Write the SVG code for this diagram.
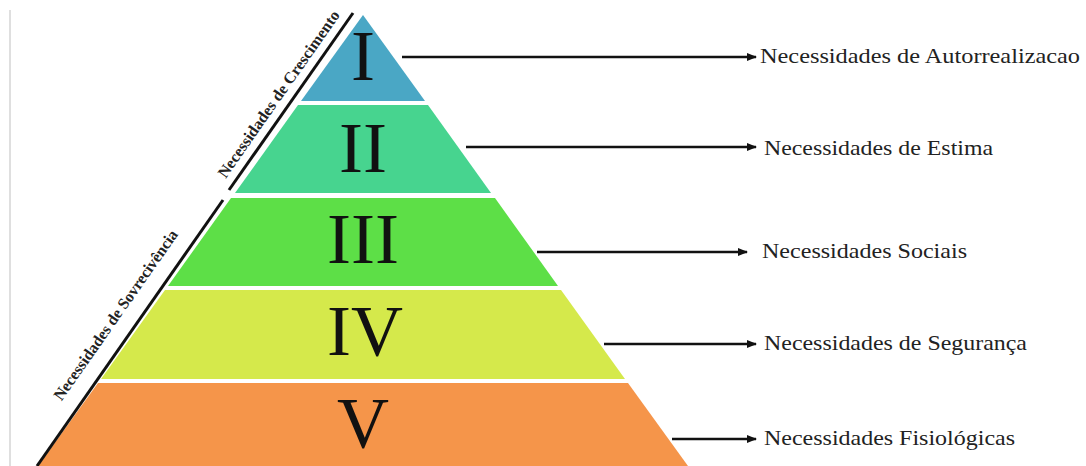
<svg xmlns="http://www.w3.org/2000/svg" width="1086" height="466" viewBox="0 0 1086 466">
<defs>
<style>
.lvl{stroke:none}
.num{font-family:"Liberation Serif","Times New Roman",serif;font-size:72px;fill:#111;text-anchor:middle}
.lbl{font-family:"Liberation Serif","Times New Roman",serif;font-size:22px;fill:#222}
.side{font-family:"Liberation Serif","Times New Roman",serif;font-size:16px;font-weight:bold;fill:#222;text-anchor:middle}
.conn{stroke:#111;stroke-width:2.5;fill:none;marker-end:url(#ah)}
.diag{stroke:#111;stroke-width:3;fill:none}
</style>
<marker id="ah" viewBox="0 0 10 10" refX="9" refY="5" markerWidth="4" markerHeight="4" orient="auto" markerUnits="strokeWidth">
<path d="M0,1 L10,5 L0,9 z" fill="#111"/>
</marker>
</defs>
<rect width="1086" height="466" fill="#ffffff"/>
<line x1="10" y1="10" x2="10" y2="466" stroke="#d4d4d4" stroke-width="1.5"/>
<g id="level-1">
<polygon class="lvl" points="363,15 425,101 301,101" fill="#4aa7c5"/>
<text class="num" x="363" y="80">I</text>
</g>
<g id="level-2">
<polygon class="lvl" points="298,105 428,105 491,193 235,193" fill="#47d48f"/>
<text class="num" x="363" y="172">II</text>
</g>
<g id="level-3">
<polygon class="lvl" points="231,198 495,198 558,286 168,286" fill="#5ddf47"/>
<text class="num" x="363" y="263">III</text>
</g>
<g id="level-4">
<polygon class="lvl" points="165,290 561,290 625,379 101,379" fill="#d5e94b"/>
<text class="num" x="365" y="355">IV</text>
</g>
<g id="level-5">
<polygon class="lvl" points="98,383 628,383 688,466 38,466" fill="#f5954a"/>
<text class="num" x="363" y="447">V</text>
</g>
<g id="side-crescimento">
<line class="diag" x1="353" y1="13" x2="229" y2="190"/>
<text class="side" transform="translate(283,97) rotate(-55)" textLength="200" lengthAdjust="spacingAndGlyphs">Necessidades de Crescimento</text>
</g>
<g id="side-sobrevivencia">
<line class="diag" x1="223" y1="200" x2="37" y2="466"/>
<text class="side" transform="translate(120,318) rotate(-55)" textLength="204" lengthAdjust="spacingAndGlyphs">Necessidades de Sovrecivência</text>
</g>
<g id="connectors">
<line class="conn" x1="402" y1="57" x2="756" y2="57"/>
<line class="conn" x1="466" y1="147" x2="756" y2="147"/>
<line class="conn" x1="537" y1="252" x2="747" y2="252"/>
<line class="conn" x1="604" y1="344" x2="756" y2="344"/>
<line class="conn" x1="672" y1="439" x2="756" y2="439"/>
</g>
<g id="labels">
<text class="lbl" x="760" y="63" textLength="320" lengthAdjust="spacingAndGlyphs">Necessidades de Autorrealizacao</text>
<text class="lbl" x="764" y="155" textLength="229" lengthAdjust="spacingAndGlyphs">Necessidades de Estima</text>
<text class="lbl" x="762" y="258" textLength="205" lengthAdjust="spacingAndGlyphs">Necessidades Sociais</text>
<text class="lbl" x="764" y="350" textLength="263" lengthAdjust="spacingAndGlyphs">Necessidades de Segurança</text>
<text class="lbl" x="764" y="445" textLength="251" lengthAdjust="spacingAndGlyphs">Necessidades Fisiológicas</text>
</g>
</svg>
